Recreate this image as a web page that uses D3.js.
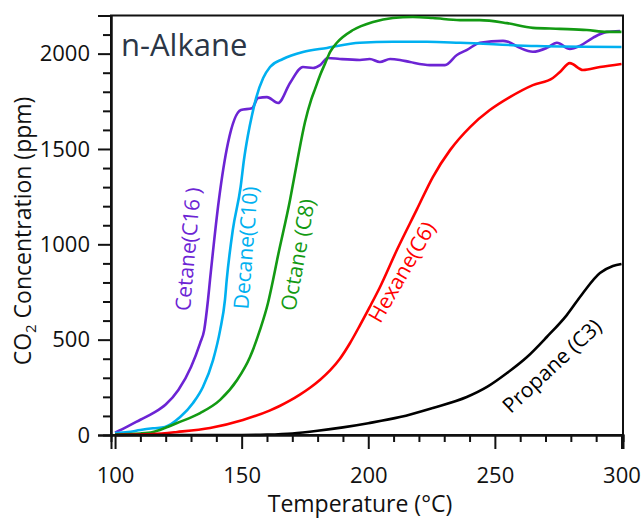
<!DOCTYPE html>
<html><head><meta charset="utf-8">
<script src="https://cdn.jsdelivr.net/npm/d3@7/dist/d3.min.js"></script>
<style>
html,body{margin:0;padding:0;background:#fff;}
svg{display:block;font-family:"Open Sans",sans-serif;}
</style></head>
<body>
<svg id="chart" width="641" height="520"></svg>
<script>
// ---- data ----
const cetaneT   = [100,105,110,115,120,125,130,133.6,135.2,136.7,137.5,141,144.6,149.7,154.1,156.5,160,164.4,169.1,174.2,178.2,181,184,188.8,196.7,200.6,204.6,208.6,212.5,216.5,224.4,230.3,235,239,244.1,253.2,255.2,259.9,265,270.5,274.5,279.6,283.6,288.7,294.2,299.4];
const cetaneCO2 = [12,45,80,115,160,236,357,482,550,708,813,1232,1531,1704,1714,1767,1772,1741,1846,1930,1925,1940,1977,1972,1967,1972,1956,1972,1967,1956,1940,1940,1993,2020,2057,2067,2062,2030,2010,2030,2057,2025,2041,2083,2114,2119];

const decaneT   = [100,105,110,115,119.7,125.7,130.8,134.7,138.7,141.5,143.4,144.1,146.5,149.6,150.9,152.5,154.1,155.7,158.5,161.2,166.3,174.2,183.7,196.7,209.7,223.2,236.2,266.6,300];
const decaneCO2 = [10,15,26,35,42,94,168,252,393,550,708,813,1075,1302,1442,1573,1678,1767,1872,1930,1972,2009,2030,2057,2062,2062,2057,2040,2035];

const octaneT   = [100,110,115,119.7,124.5,133.6,141.5,148.2,153.3,157.2,160.4,162.4,164,169.1,172,175,177.5,179,181,183,185,187.6,194,201.9,209.7,217.6,225.5,236.2,244,254.8,265,275.7,286.3,294.2,300];
const octaneCO2 = [3,8,16,37,63,115,184,288,409,550,692,813,918,1232,1440,1640,1760,1815,1888,1950,2010,2057,2124,2166,2187,2192,2187,2176,2176,2160,2135,2130,2124,2114,2114];

const hexaneT   = [100,110,115,124.5,137.5,150.5,161,165,169,173,177,181,185,188.8,192.7,196.7,200.6,204.6,211.3,219.2,225.5,232.3,240.2,248,255.9,265,272.9,275.7,279.6,284.8,291.5,300];
const hexaneCO2 = [0,3,5,16,37,79,128,152,180,212,248,290,340,400,480,575,672,775,970,1183,1353,1494,1615,1704,1772,1835,1872,1904,1950,1914,1930,1946];

const propaneT   = [100,150,160,170,180,190,200,212.5,225.5,238.9,246.9,254.8,262.7,270.5,278.4,284.8,291.5,296.6,300];
const propaneCO2 = [0,0,2,8,22,40,62,94,142,199,252,325,409,514,629,745,849,886,897];

const seriesNames  = ["Cetane(C16 )","Decane(C10)","Octane (C8)","Hexane(C6)","Propane (C3)"];
const seriesColors = ["#6C24D4","#00B0F0","#139A13","#FF0000","#000000"];

const xMajorTicks = [100,150,200,250,300];
const yMajorTicks = [0,500,1000,1500,2000];
const xMinorTicks = [110,120,130,140,160,170,180,190,210,220,230,240,260,270,280,290];
const yMinorTicks = [100,200,300,400,600,700,800,900,1100,1200,1300,1400,1600,1700,1800,1900,2100];

// label anchors in data units: [T, CO2, angle]
const labelAnchors = [[128.8,975,-85],[151.6,982,-85.5],[172.2,945,-80],[213.3,855,-60],[272.5,362,-43]];

// ---- chart ----
const svg = d3.select("#chart");
const x = d3.scaleLinear().domain([98.4,300.6]).range([111,623]);
const y = d3.scaleLinear().domain([0,2200]).range([435,15.5]);

const series = [
  [cetaneT,cetaneCO2],[decaneT,decaneCO2],[octaneT,octaneCO2],[hexaneT,hexaneCO2],[propaneT,propaneCO2]
].map((s,i)=>({name:seriesNames[i],color:seriesColors[i],pts:s[0].map((t,j)=>[t,s[1][j]])}));

// frame
svg.append("rect")
  .attr("x",x(98.4)).attr("y",y(2200))
  .attr("width",x(300.6)-x(98.4)).attr("height",y(0)-y(2200))
  .attr("fill","none").attr("stroke","#111").attr("stroke-width",2);

// lines
const line = d3.line().x(d=>x(d[0])).y(d=>y(d[1])).curve(d3.curveMonotoneX);
series.forEach(s=>{
  svg.append("path")
    .attr("d",line(s.pts))
    .attr("fill","none").attr("stroke",s.color).attr("stroke-width",2.6)
    .attr("stroke-linejoin","round");
});

// axes
const fmt = d3.format("d");
const gx = svg.append("g").attr("transform",`translate(0,${y(0)})`);
gx.call(d3.axisBottom(x).tickValues(xMajorTicks).tickSize(14).tickPadding(18).tickFormat(fmt));
gx.append("g").call(d3.axisBottom(x).tickValues(xMinorTicks).tickSize(7).tickFormat(""));
const gy = svg.append("g").attr("transform",`translate(${x(98.4)},0)`);
gy.call(d3.axisLeft(y).tickValues(yMajorTicks).tickSize(13).tickPadding(8).tickFormat(fmt));
gy.append("g").call(d3.axisLeft(y).tickValues(yMinorTicks).tickSize(8).tickFormat(""));
svg.selectAll(".domain").attr("stroke","#111").attr("stroke-width",2);
svg.selectAll(".tick line").attr("stroke","#111").attr("stroke-width",2);
svg.selectAll(".tick text").attr("font-family","Open Sans").attr("font-size",22).attr("fill","#111");

// axis titles
svg.append("text").attr("x",360).attr("y",512).attr("text-anchor","middle")
  .attr("font-size",23).attr("fill","#111").text("Temperature (°C)");
const yt = svg.append("text").attr("transform","translate(31,231) rotate(-90)")
  .attr("text-anchor","middle").attr("font-size",23).attr("fill","#111");
yt.append("tspan").text("CO");
yt.append("tspan").attr("font-size",15).attr("dy",5).text("2");
yt.append("tspan").attr("dy",-5).text(" Concentration (ppm)");

// panel title
svg.append("text").attr("x",121).attr("y",56).attr("font-size",31).attr("fill","#2B3646").text("n-Alkane");

// series labels
series.forEach((s,i)=>{
  const a = labelAnchors[i];
  svg.append("text")
    .attr("transform",`translate(${x(a[0])},${y(a[1])}) rotate(${a[2]})`)
    .attr("text-anchor","middle").attr("dy","0.35em")
    .attr("font-size",21).attr("fill",s.color).text(s.name);
});
</script>
</body></html>
